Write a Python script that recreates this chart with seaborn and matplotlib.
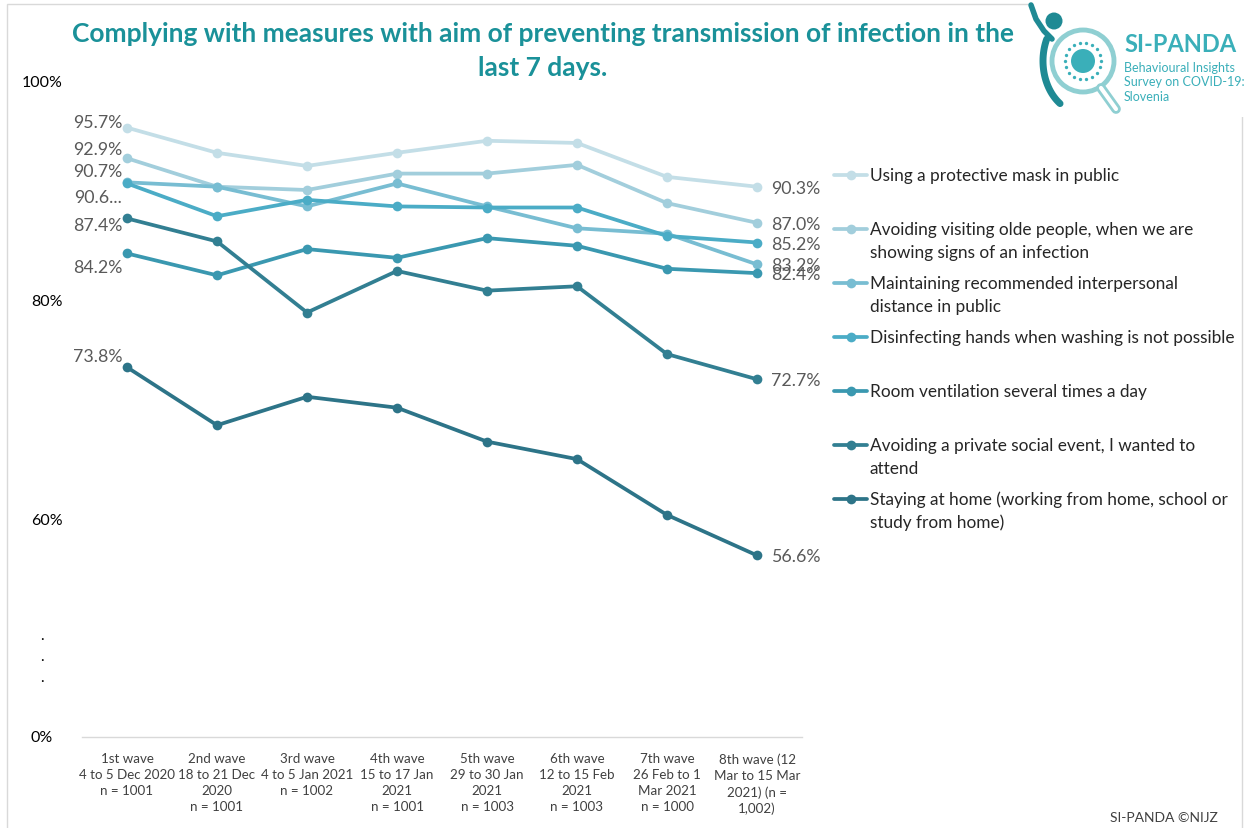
import numpy as np
import pandas as pd
import matplotlib
matplotlib.use("Agg")
import matplotlib.pyplot as plt
from matplotlib.lines import Line2D
from matplotlib.patches import Circle, Rectangle
import seaborn as sns

# ---- data -------------------------------------------------------------
waves = [
    "1st wave\n4 to 5 Dec 2020\nn = 1001",
    "2nd wave\n18 to 21 Dec\n2020\nn = 1001",
    "3rd wave\n4 to 5 Jan 2021\nn = 1002",
    "4th wave\n15 to 17 Jan\n2021\nn = 1001",
    "5th wave\n29 to 30 Jan\n2021\nn = 1003",
    "6th wave\n12 to 15 Feb\n2021\nn = 1003",
    "7th wave\n26 Feb to 1\nMar 2021\nn = 1000",
    "8th wave (12\nMar to 15 Mar\n2021) (n =\n1,002)",
]

measures = [
    "Using a protective mask in public",
    "Avoiding visiting olde people, when we are\nshowing signs of an infection",
    "Maintaining recommended interpersonal\ndistance in public",
    "Disinfecting hands when washing is not possible",
    "Room ventilation several times a day",
    "Avoiding a private social event, I wanted to\nattend",
    "Staying at home (working from home, school or\nstudy from home)",
]

mask_public = [95.7, 93.4, 92.2, 93.4, 94.5, 94.3, 91.2, 90.3]
avoid_elderly = [92.9, 90.3, 90.0, 91.5, 91.5, 92.3, 88.8, 87.0]
keep_distance = [90.7, 90.3, 88.5, 90.6, 88.5, 86.5, 86.0, 83.2]
disinfect_hands = [90.6, 87.6, 89.1, 88.5, 88.4, 88.4, 85.8, 85.2]
ventilation = [84.2, 82.2, 84.6, 83.8, 85.6, 84.9, 82.8, 82.4]
avoid_social_event = [87.4, 85.3, 78.8, 82.6, 80.8, 81.2, 75.0, 72.7]
stay_home = [73.8, 68.5, 71.1, 70.1, 67.0, 65.4, 60.3, 56.6]

series = [mask_public, avoid_elderly, keep_distance, disinfect_hands,
          ventilation, avoid_social_event, stay_home]

start_labels = ["95.7%", "92.9%", "90.7%", "90.6...", "84.2%", "87.4%", "73.8%"]
end_labels = ["90.3%", "87.0%", "83.2%", "85.2%", "82.4%", "72.7%", "56.6%"]

ytick_values = [60, 80, 100]
ytick_labels = ["60%", "80%", "100%"]

colors = ["#C3DEE7", "#A2CEDC", "#78BDD2", "#4BACC6", "#3A98B0", "#327F92", "#2D7488"]

# ---- figure -----------------------------------------------------------
W, H = 1248, 829
sns.set_theme(style="white")
plt.rcParams["font.family"] = ["Lato", "DejaVu Sans"]

fig = plt.figure(figsize=(W / 100, H / 100), dpi=100)


def fx(px):
    return px / W


def fy(py):
    return 1 - py / H


ax = fig.add_axes([fx(82), fy(738), fx(802) - fx(82), fy(81.6) - fy(738)])

rows = []
for name, vals in zip(measures, series):
    for i, v in enumerate(vals):
        rows.append({"wave": i, "measure": name, "value": v})
df = pd.DataFrame(rows)

sns.lineplot(data=df, x="wave", y="value", hue="measure", hue_order=measures,
             palette=colors, marker="o", markersize=7, markeredgewidth=0,
             linewidth=2.7, legend=False, ax=ax, sort=False)

ax.set_xlim(-0.5, len(waves) - 0.5)
ax.set_ylim(40, 100)
ax.set_xlabel("")
ax.set_ylabel("")
ax.set_xticks(range(len(waves)))
ax.set_xticklabels(waves, fontsize=9.6, color="#404040", linespacing=1.4)
ax.set_yticks(ytick_values)
ax.set_yticklabels(ytick_labels, fontsize=11.5, color="#000000")
ax.tick_params(axis="y", length=0, pad=14)
ax.tick_params(axis="x", length=0, pad=11)
for side in ["top", "right", "left"]:
    ax.spines[side].set_visible(False)
ax.spines["bottom"].set_color("#D9D9D9")
ax.spines["bottom"].set_linewidth(1)
ax.grid(False)

# compressed-axis marker: "0%" at the base, with ellipsis dots
ax.text(-0.822, 40, "0%", fontsize=11.5, color="#000000", ha="right", va="center")
for dv in [49.0, 47.0, 45.1]:
    ax.text(-0.944, dv, ".", fontsize=11, color="#000000", ha="center", va="baseline")

# data labels at both ends of each line
start_offsets = [(-5, 6), (-5, 9), (-5, 11), (-5, -14), (-5, -14), (-5, -7), (-5, 11)]
for vals, lab, (dx, dy) in zip(series, start_labels, start_offsets):
    ax.annotate(lab, (0, vals[0]), xytext=(dx, dy), textcoords="offset pixels",
                ha="right", va="center", fontsize=12.8, color="#595959")
for vals, lab in zip(series, end_labels):
    ax.annotate(lab, (len(waves) - 1, vals[-1]), xytext=(14, -1),
                textcoords="offset pixels", ha="left", va="center",
                fontsize=12.8, color="#595959")

# ---- legend -----------------------------------------------------------
leg_y0, leg_step = 176, 54
for k, (name, c) in enumerate(zip(measures, colors)):
    y = leg_y0 + k * leg_step
    fig.add_artist(Line2D([fx(834), fx(867)], [fy(y), fy(y)], color=c, lw=2.7,
                          transform=fig.transFigure))
    fig.add_artist(Line2D([fx(850.5)], [fy(y)], color=c, marker="o", markersize=7,
                          markeredgewidth=0, transform=fig.transFigure))
    for j, line in enumerate(name.split("\n")):
        fig.text(fx(870), fy(y + j * 23), line, fontsize=12.4, color="#262626",
                 ha="left", va="center")

# ---- title ------------------------------------------------------------
title_color = "#1A9199"
fig.text(fx(543), fy(34), "Complying with measures with aim of preventing transmission of infection in the",
         fontsize=19, fontweight="bold", color=title_color, ha="center", va="center")
fig.text(fx(543), fy(68), "last 7 days.", fontsize=19, fontweight="bold",
         color=title_color, ha="center", va="center")

# ---- footer -----------------------------------------------------------
fig.text(fx(1110), fy(818), "SI-PANDA ©NIJZ", fontsize=10, color="#404040",
         ha="left", va="center")

# ---- chart frame ------------------------------------------------------
fig.add_artist(Rectangle((fx(7), fy(H + 5)), fx(1242) - fx(7), fy(5) - fy(H + 5),
                         transform=fig.transFigure, fill=False,
                         edgecolor="#D9D9D9", lw=1))

# ---- logo -------------------------------------------------------------
logo_light = "#8FCFD2"
logo_mid = "#3AAFB9"
logo_dark = "#1F8A94"
fig.add_artist(Rectangle((fx(1028), fy(118)), fx(1244) - fx(1028), fy(2) - fy(118),
                         transform=fig.transFigure, facecolor="white", edgecolor="none"))
# magnifier ring and handle
fig.add_artist(Line2D([fx(1101), fx(1116)], [fy(89), fy(110)], color=logo_light,
                      lw=7, solid_capstyle="round", transform=fig.transFigure))
fig.add_artist(Line2D([fx(1101), fx(1116)], [fy(89), fy(110)], color="white",
                      lw=3, solid_capstyle="round", transform=fig.transFigure))
fig.add_artist(Circle((1083 / 100, (H - 62) / 100), 0.31, fill=False,
                      edgecolor=logo_light, lw=3.5, transform=fig.dpi_scale_trans))
# virus
fig.add_artist(Circle((1083 / 100, (H - 62) / 100), 0.12, facecolor=logo_mid,
                      edgecolor="none", transform=fig.dpi_scale_trans))
for ang in np.linspace(0, 2 * np.pi, 18, endpoint=False):
    px = 1083 + 18 * np.cos(ang)
    py = 62 + 18 * np.sin(ang)
    fig.add_artist(Line2D([fx(px)], [fy(py)], marker="o", markersize=2.4,
                          color=logo_mid, markeredgewidth=0, transform=fig.transFigure))
# figure: head, raised arm and body arc
fig.add_artist(Circle((1054 / 100, (H - 22) / 100), 0.085, facecolor=logo_dark,
                      edgecolor="none", transform=fig.dpi_scale_trans))
arm_x = [1031, 1036, 1044, 1052]
arm_y = [6, 20, 32, 40]
fig.add_artist(Line2D([fx(v) for v in arm_x], [fy(v) for v in arm_y], color=logo_dark,
                      lw=4, solid_capstyle="round", transform=fig.transFigure))
t = np.linspace(np.radians(125), np.radians(205), 30)
body_x = 1083 + 40 * np.cos(t)
body_y = 62 + 52 * np.sin(t)
fig.add_artist(Line2D([fx(v) for v in body_x], [fy(v) for v in body_y], color=logo_dark,
                      lw=5, solid_capstyle="round", transform=fig.transFigure))
fig.text(fx(1124), fy(45), "SI-PANDA", fontsize=17, fontweight="bold", color=logo_mid,
         ha="left", va="center")
for k, line in enumerate(["Behavioural Insights", "Survey on COVID-19:", "Slovenia"]):
    fig.text(fx(1124), fy(68 + k * 14.5), line, fontsize=9, color=logo_mid,
             ha="left", va="center")

fig.savefig("out.png", dpi=100, facecolor="white")
